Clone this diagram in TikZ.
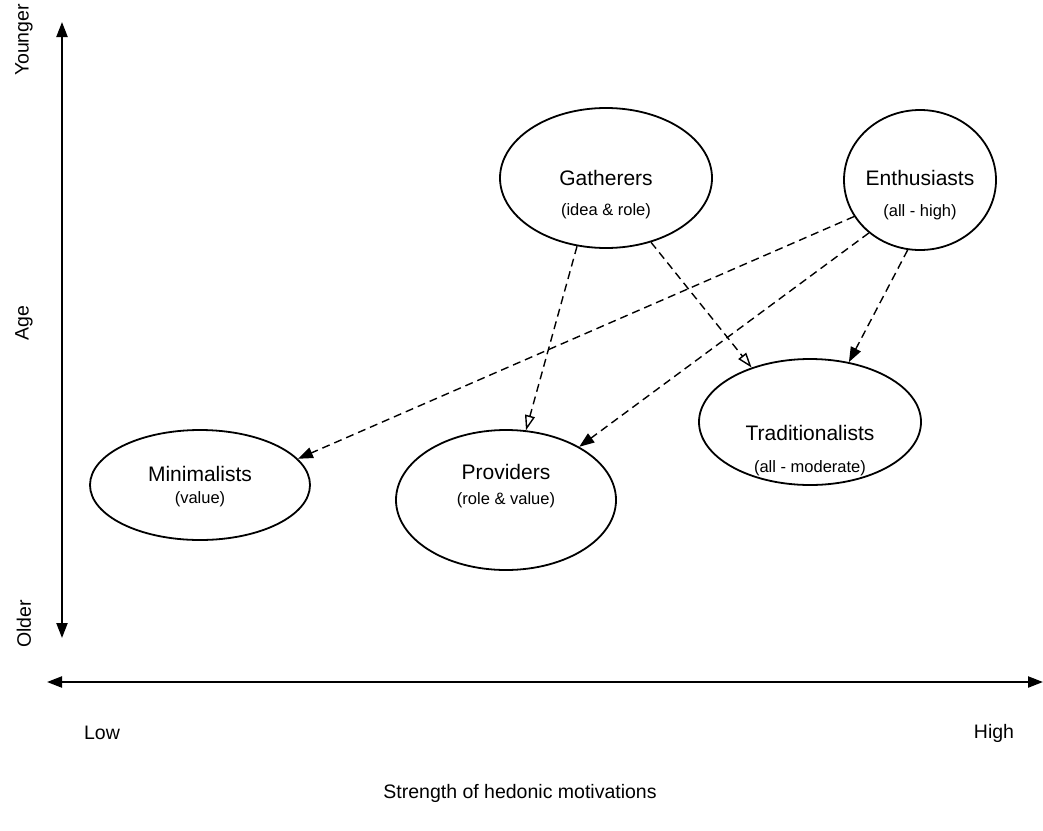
\documentclass[tikz,border=0pt]{standalone}
\usepackage{fontspec}
\setmainfont{Liberation Sans}
\usetikzlibrary{arrows.meta,shapes.geometric}
\begin{document}
\begin{tikzpicture}[x=1pt,y=-1pt,
  group/.style={draw=black, line width=1.8pt, ellipse, inner sep=0pt},
  title/.style={font=\fontsize{21}{24}\selectfont},
  sub/.style={font=\fontsize{16.5}{20}\selectfont},
  axislabel/.style={font=\fontsize{19.5}{22}\selectfont},
  axis/.style={line width=2.2pt, {Triangle[length=15pt,width=11pt]}-{Triangle[length=15pt,width=11pt]}},
  link/.style={dashed, dash pattern=on 8pt off 5pt, line width=1.4pt},
  solidtip/.style={link, -{Triangle[length=15pt,width=11pt]}},
  opentip/.style={link, -{Triangle[open,length=15pt,width=10pt,line width=1.4pt]}}]
\useasboundingbox (0,0) rectangle (1043,830);

% axes
\coordinate (ytop) at (62,22);
\coordinate (ybot) at (62,638);
\coordinate (xl) at (47,682);
\coordinate (xr) at (1043,682);
\draw[axis] (ybot) -- (ytop);
\draw[axis] (xl) -- (xr);

\node[axislabel, rotate=90] (younger) at (24,40) {Younger};
\node[axislabel, rotate=90] (age) at (24,323) {Age};
\node[axislabel, rotate=90] (older) at (24,624) {Older};
\node[axislabel] (low) at (102,733) {Low};
\node[axislabel] (high) at (994,733) {High};
\node[axislabel] (strength) at (520,793) {Strength of hedonic motivations};

% segments
\node[group, minimum width=212pt, minimum height=140pt] (g) at (606,178) {};
\node[group, minimum width=152pt, minimum height=140pt] (e) at (920,180) {};
\node[group, minimum width=222pt, minimum height=126pt] (t) at (810,422) {};
\node[group, minimum width=220pt, minimum height=110pt] (m) at (200,485) {};
\node[group, minimum width=220pt, minimum height=140pt] (p) at (506,500) {};

\node[title] (gt) at (606,178) {Gatherers};
\node[sub] (gs) at (606,211) {(idea \& role)};
\node[title] (et) at (920,178) {Enthusiasts};
\node[sub] (es) at (920,212) {(all - high)};
\node[title] (tt) at (810,433) {Traditionalists};
\node[sub] (ts) at (810,468) {(all - moderate)};
\node[title] (mt) at (200,474) {Minimalists};
\node[sub] (ms) at (200,499) {(value)};
\node[title] (pt) at (506,472) {Providers};
\node[sub] (ps) at (506,500) {(role \& value)};

% influences
\draw[opentip] (g.247.5) -- (p.74);
\draw[opentip] (g.305) -- (t.137.6);
\draw[solidtip] (e.260.5) -- (t.57);
\draw[solidtip] (e.226.8) -- (p.36);
\draw[solidtip] (e.209.4) -- (m.15.7);
\end{tikzpicture}
\end{document}
